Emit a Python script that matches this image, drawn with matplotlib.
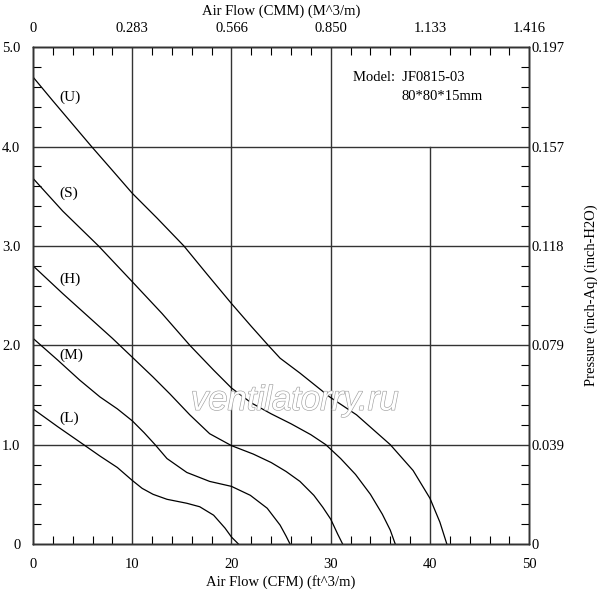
import matplotlib
matplotlib.use("Agg")
import matplotlib.pyplot as plt
import matplotlib.patheffects as pe
from matplotlib.ticker import MultipleLocator

plt.rcParams['font.family'] = ['Liberation Serif', 'DejaVu Serif']

# curve data: air flow (CFM) vs static pressure (mmH2O)
u_cfm = [0, 2, 5.9, 8, 10, 12.5, 15.2, 17.5, 20, 22, 23.7, 24.9, 26.9, 29.9, 32.6, 36.0, 38.3, 40.0, 41.0, 41.7]
u_p = [4.70, 4.46, 4.0, 3.76, 3.53, 3.28, 3.0, 2.72, 2.42, 2.19, 2.0, 1.87, 1.72, 1.48, 1.30, 1.0, 0.74, 0.46, 0.22, 0]

s_cfm = [0, 3, 6.6, 10, 13, 15.8, 18.2, 20, 22, 24, 26, 28, 29.5, 31, 32.5, 34, 35.2, 36, 36.5]
s_p = [3.68, 3.35, 3.0, 2.64, 2.32, 2.0, 1.75, 1.57, 1.42, 1.31, 1.21, 1.10, 1.0, 0.86, 0.70, 0.50, 0.30, 0.14, 0]

h_cfm = [0, 3, 6, 8, 10, 12.1, 13.8, 15.8, 17.8, 20, 22.2, 24, 25.5, 26.9, 28.3, 29.2, 30, 30.7, 31.2]
h_p = [2.80, 2.52, 2.25, 2.07, 1.88, 1.68, 1.51, 1.30, 1.11, 0.99, 0.905, 0.82, 0.73, 0.63, 0.49, 0.37, 0.25, 0.10, 0]

m_cfm = [0, 2.5, 4.7, 6.75, 8.5, 10, 11.2, 12.3, 13.5, 15.5, 17.8, 20, 21.9, 23.6, 24.9, 25.5, 25.9]
m_p = [2.07, 1.85, 1.65, 1.48, 1.36, 1.24, 1.12, 1.0, 0.86, 0.72, 0.63, 0.58, 0.49, 0.36, 0.19, 0.08, 0]

l_cfm = [0, 2.5, 5.1, 6.75, 8.5, 10, 11, 12.1, 13.5, 15.5, 16.8, 18.2, 19.35, 20, 20.7]
l_p = [1.36, 1.18, 1.0, 0.885, 0.77, 0.64, 0.56, 0.50, 0.45, 0.41, 0.375, 0.29, 0.16, 0.07, 0]

curve_names = ["(U)", "(S)", "(H)", "(M)", "(L)"]
label_y = [4.5, 3.53, 2.66, 1.90, 1.27]

cfm_ticks = [0, 10, 20, 30, 40, 50]
cmm_labels = ["0", "0.283", "0.566", "0.850", "1.133", "1.416"]
p_ticks = [0, 1, 2, 3, 4, 5]
p_labels = ["0", "1.0", "2.0", "3.0", "4.0", "5.0"]
inch_labels = ["0", "0.039", "0.079", "0.118", "0.157", "0.197"]

fig = plt.figure(figsize=(6.0, 5.95), dpi=100)
ax = fig.add_axes([0.055, 0.0857, 0.827, 0.835])

ax.set_xlim(0, 50)
ax.set_ylim(0, 5)

# grid lines (x=40 stops below the model box)
for x in [10, 20, 30]:
    ax.plot([x, x], [0, 5], color='#333333', lw=1.0, zorder=1)
ax.plot([40, 40], [0, 4], color='#333333', lw=1.0, zorder=1)
for y in [1, 2, 3, 4]:
    ax.plot([0, 50], [y, y], color='#333333', lw=1.0, zorder=1)

for xs, ys in [(u_cfm, u_p), (s_cfm, s_p), (h_cfm, h_p), (m_cfm, m_p), (l_cfm, l_p)]:
    ax.plot(xs, ys, color='black', lw=0.9, zorder=3)

for name, y in zip(curve_names, label_y):
    ax.text(2.7, y, name, fontsize=11, va='center', ha='left')

ax.text(32.2, 4.69, "Model:  JF0815-03", fontsize=10.5, va='center', ha='left')
ax.text(37.1, 4.50, "80*80*15mm", fontsize=10.5, va='center', ha='left')

ax.text(26.4, 1.35, "ventilatorry.ru", fontsize=25, style='italic',
        family='Liberation Sans', color='white', ha='center', va='baseline', zorder=4,
        path_effects=[pe.Stroke(linewidth=0.9, foreground='#a0a0a0'), pe.Normal()])

ax.set_xticks(cfm_ticks)
ax.set_xticklabels([str(v) for v in cfm_ticks])
ax.set_yticks(p_ticks)
ax.set_yticklabels(p_labels)
ax.xaxis.set_minor_locator(MultipleLocator(2))
ax.yaxis.set_minor_locator(MultipleLocator(0.2))
ax.tick_params(which='both', direction='in', labelsize=10.5)
ax.tick_params(which='minor', length=6, width=0.8)
ax.tick_params(which='major', length=0)
ax.tick_params(axis='x', pad=10)
ax.tick_params(axis='y', pad=9)
ax.set_xlabel("Air Flow (CFM) (ft^3/m)", fontsize=10.5, labelpad=3)

top = ax.twiny()
top.set_xlim(0, 50)
top.set_xticks(cfm_ticks)
top.set_xticklabels(cmm_labels)
top.xaxis.set_minor_locator(MultipleLocator(2))
top.tick_params(which='both', direction='in', labelsize=10.5, pad=9)
top.tick_params(which='minor', length=6, width=0.8)
top.tick_params(which='major', length=0)
top.set_xlabel("Air Flow (CMM) (M^3/m)", fontsize=10.5, labelpad=5)

right = ax.twinx()
right.set_ylim(0, 5)
right.set_yticks(p_ticks)
right.set_yticklabels(inch_labels)
right.yaxis.set_minor_locator(MultipleLocator(0.2))
right.tick_params(which='both', direction='in', labelsize=10.5, pad=2)
right.tick_params(which='minor', length=6, width=0.8)
right.tick_params(which='major', length=0)
right.set_ylabel("Pressure (inch-Aq) (inch-H2O)", fontsize=10.5, labelpad=14)

for a in (ax, top, right):
    for sp in a.spines.values():
        sp.set_linewidth(1.0)
        sp.set_color('#333333')

fig.savefig("out.png", dpi=100)
